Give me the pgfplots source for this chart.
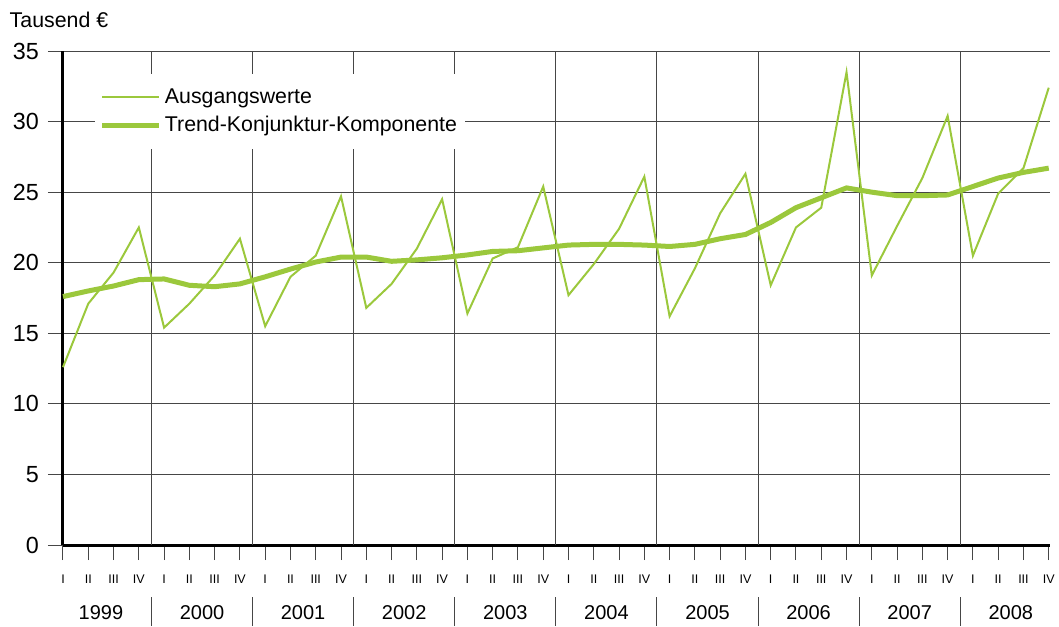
\documentclass[border=0pt]{standalone}
\usepackage{pgfplots}
\pgfplotsset{compat=1.18}
\usepackage{fontspec}
\setmainfont{Liberation Sans}
\definecolor{lgreen}{RGB}{155,200,60}
\definecolor{gridc}{RGB}{70,70,70}
\begin{document}
\begin{tikzpicture}
\useasboundingbox (-37.8pt,-48.6pt) rectangle (597.6pt,327pt);
\begin{axis}[
 at={(0,0)}, anchor=origin,
 scale only axis, width=592.2pt, height=296.4pt,
 xmin=0, xmax=39.05, ymin=0, ymax=35,
 clip=false,
 axis x line*=bottom, axis y line*=left,
 axis line style={-, line width=1.8pt, black},
 ytick={0,5,...,35}, ymajorgrids,
 grid style={gridc, line width=0.6pt},
 tick align=outside, major tick length=9pt,
 tick style={gridc, line width=0.6pt},
 xtick={0,...,39},
 xticklabels={I,II,III,IV,I,II,III,IV,I,II,III,IV,I,II,III,IV,I,II,III,IV,I,II,III,IV,I,II,III,IV,I,II,III,IV,I,II,III,IV,I,II,III,IV},
 x tick label style={font=\fontsize{7.5}{8}\selectfont, anchor=center, yshift=-11.5pt},
 y tick label style={font=\fontsize{14}{16}\selectfont, xshift=-2pt},
 /pgf/number format/assume math mode=true,
 extra x ticks={3.5,7.5,...,35.5},
 extra x tick labels={},
 extra x tick style={grid=major, major tick length=0pt},
 legend style={at={(0.032,0.955)}, anchor=north west, draw=none, fill=white,
   font=\fontsize{12.8}{14}\selectfont, inner xsep=3pt, inner ysep=7pt, row sep=2.2pt},
 legend cell align=left,
 legend image code/.code={\draw[#1] (0pt,0pt) -- (27.6pt,0pt); \path (0pt,0pt) -- (34pt,0pt);},
]
\addplot[lgreen, line width=1.2pt] coordinates {
(0,12.6) (1,17.1) (2,19.3) (3,22.5)
(4,15.4) (5,17.1) (6,19.1) (7,21.7)
(8,15.5) (9,19.0) (10,20.5) (11,24.7)
(12,16.8) (13,18.5) (14,21.0) (15,24.5)
(16,16.4) (17,20.3) (18,21.1) (19,25.4)
(20,17.7) (21,19.9) (22,22.4) (23,26.1)
(24,16.2) (25,19.6) (26,23.5) (27,26.3)
(28,18.4) (29,22.5) (30,23.9) (31,33.5)
(32,19.1) (33,22.6) (34,26.0) (35,30.4)
(36,20.5) (37,24.9) (38,26.7) (39,32.4)
};
\addlegendentry{Ausgangswerte}
\addplot[lgreen, line width=3pt] coordinates {
(0,17.6) (1,18.0) (2,18.35) (3,18.8)
(4,18.85) (5,18.4) (6,18.3) (7,18.5)
(8,19.0) (9,19.55) (10,20.05) (11,20.4)
(12,20.4) (13,20.1) (14,20.2) (15,20.35)
(16,20.55) (17,20.8) (18,20.85) (19,21.05)
(20,21.25) (21,21.3) (22,21.3) (23,21.25)
(24,21.15) (25,21.3) (26,21.7) (27,22.0)
(28,22.85) (29,23.9) (30,24.6) (31,25.3)
(32,25.0) (33,24.75) (34,24.75) (35,24.8)
(36,25.4) (37,26.0) (38,26.4) (39,26.7)
};
\addlegendentry{Trend-Konjunktur-Komponente}
\node[font=\fontsize{12}{14}\selectfont] at ([yshift=-40.4pt]axis cs:1.5,0) {1999};
\node[font=\fontsize{12}{14}\selectfont] at ([yshift=-40.4pt]axis cs:5.5,0) {2000};
\node[font=\fontsize{12}{14}\selectfont] at ([yshift=-40.4pt]axis cs:9.5,0) {2001};
\node[font=\fontsize{12}{14}\selectfont] at ([yshift=-40.4pt]axis cs:13.5,0) {2002};
\node[font=\fontsize{12}{14}\selectfont] at ([yshift=-40.4pt]axis cs:17.5,0) {2003};
\node[font=\fontsize{12}{14}\selectfont] at ([yshift=-40.4pt]axis cs:21.5,0) {2004};
\node[font=\fontsize{12}{14}\selectfont] at ([yshift=-40.4pt]axis cs:25.5,0) {2005};
\node[font=\fontsize{12}{14}\selectfont] at ([yshift=-40.4pt]axis cs:29.5,0) {2006};
\node[font=\fontsize{12}{14}\selectfont] at ([yshift=-40.4pt]axis cs:33.5,0) {2007};
\node[font=\fontsize{12}{14}\selectfont] at ([yshift=-40.4pt]axis cs:37.5,0) {2008};
\draw[gridc, line width=0.6pt] ([yshift=-31.2pt]axis cs:3.5,0) -- ([yshift=-48.6pt]axis cs:3.5,0);
\draw[gridc, line width=0.6pt] ([yshift=-31.2pt]axis cs:7.5,0) -- ([yshift=-48.6pt]axis cs:7.5,0);
\draw[gridc, line width=0.6pt] ([yshift=-31.2pt]axis cs:11.5,0) -- ([yshift=-48.6pt]axis cs:11.5,0);
\draw[gridc, line width=0.6pt] ([yshift=-31.2pt]axis cs:15.5,0) -- ([yshift=-48.6pt]axis cs:15.5,0);
\draw[gridc, line width=0.6pt] ([yshift=-31.2pt]axis cs:19.5,0) -- ([yshift=-48.6pt]axis cs:19.5,0);
\draw[gridc, line width=0.6pt] ([yshift=-31.2pt]axis cs:23.5,0) -- ([yshift=-48.6pt]axis cs:23.5,0);
\draw[gridc, line width=0.6pt] ([yshift=-31.2pt]axis cs:27.5,0) -- ([yshift=-48.6pt]axis cs:27.5,0);
\draw[gridc, line width=0.6pt] ([yshift=-31.2pt]axis cs:31.5,0) -- ([yshift=-48.6pt]axis cs:31.5,0);
\draw[gridc, line width=0.6pt] ([yshift=-31.2pt]axis cs:35.5,0) -- ([yshift=-48.6pt]axis cs:35.5,0);
\node[anchor=west, font=\fontsize{12.8}{14}\selectfont] at ([xshift=-35.5pt]axis cs:0,35) [yshift=18.6pt] {Tausend €};
\end{axis}
\end{tikzpicture}
\end{document}
